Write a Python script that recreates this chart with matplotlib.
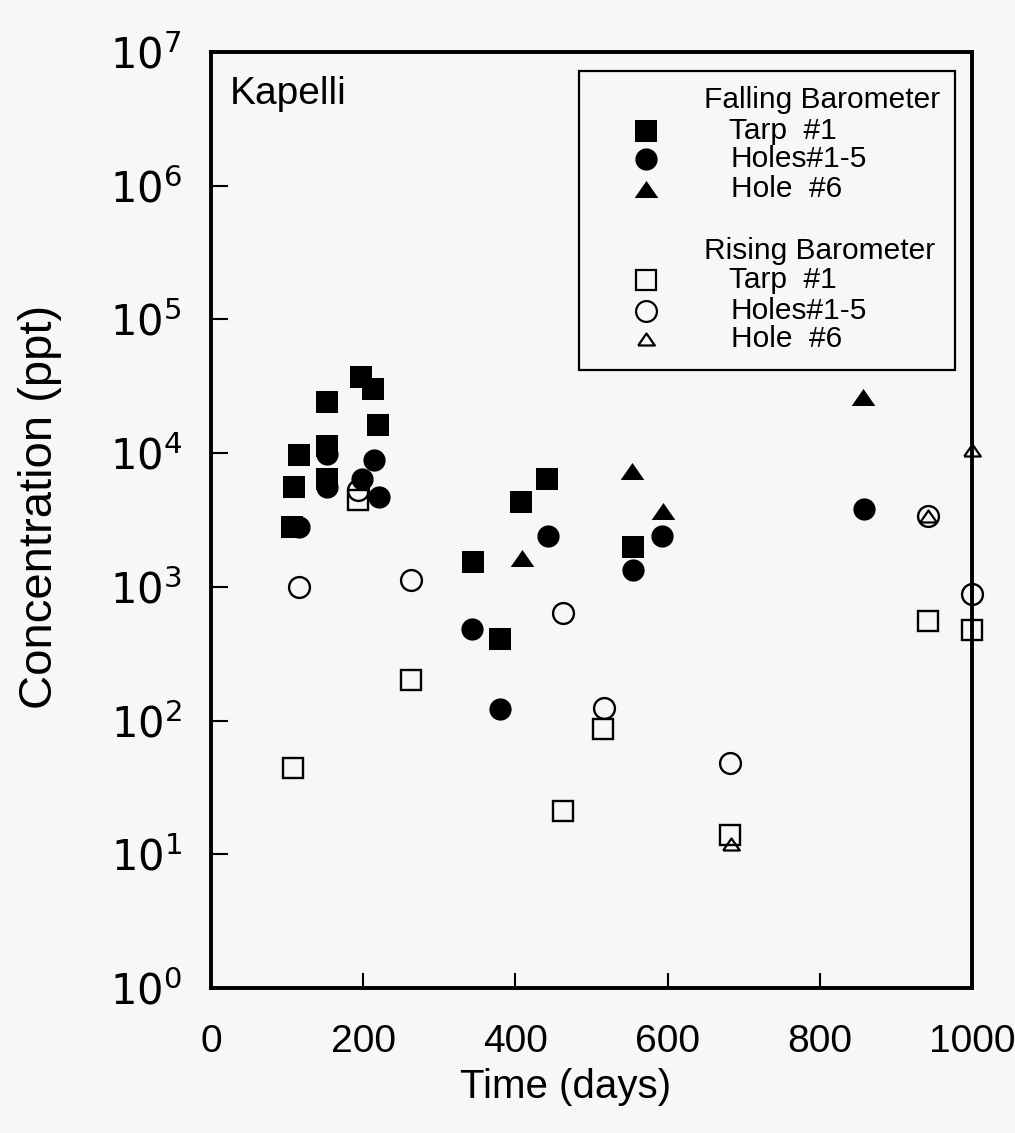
import matplotlib
matplotlib.use('Agg')
import matplotlib.pyplot as plt

plt.rcParams['mathtext.fontset'] = 'dejavusans'

# Falling barometer
fall_tarp_days = [107, 109, 115, 152, 153, 153, 197, 213, 220, 344, 380, 408, 442, 554]
fall_tarp_conc = [2800, 5600, 9700, 24000, 11300, 6400, 37000, 30000, 16300, 1530, 410, 4300, 6400, 2000]
fall_holes_days = [116, 152, 152, 198, 214, 221, 343, 380, 443, 554, 593, 858]
fall_holes_conc = [2800, 5600, 9800, 6400, 8900, 4700, 485, 123, 2400, 1330, 2400, 3800]
fall_h6_days = [409, 553, 594, 857]
fall_h6_conc = [1650, 7400, 3700, 26500]

# Rising barometer
rise_tarp_days = [108, 193, 263, 462, 515, 682, 942, 1000]
rise_tarp_conc = [44, 4500, 200, 21, 87, 14, 560, 475]
rise_holes_days = [116, 193, 263, 462, 516, 682, 942, 1000]
rise_holes_conc = [990, 5300, 1130, 635, 124, 48, 3400, 880]
rise_h6_days = [683, 942, 1000]
rise_h6_conc = [12, 3400, 10600]

xticks = [0, 200, 400, 600, 800, 1000]
yexps = [0, 1, 2, 3, 4, 5, 6, 7]

tri = [(-1, -0.72), (1, -0.72), (0, 0.72), (-1, -0.72)]
bg = '#f7f7f7'
sans = 'Liberation Sans'

fig = plt.figure(figsize=(10.15, 11.33), dpi=100, facecolor=bg)
ax = fig.add_axes([211 / 1015, (1133 - 988) / 1133, 761 / 1015, 936 / 1133], facecolor=bg)
ax.set_yscale('log')
ax.set_xlim(0, 1000)
ax.set_ylim(1, 1e7)

kw = dict(linestyle='none', clip_on=False, zorder=3)
ax.plot(fall_tarp_days, fall_tarp_conc, marker='s', ms=15.5, mfc='k', mec='k', mew=0, **kw)
ax.plot(fall_holes_days, fall_holes_conc, marker='o', ms=16, mfc='k', mec='k', mew=0, **kw)
ax.plot(fall_h6_days, fall_h6_conc, marker=tri, ms=17, mfc='k', mec='k', mew=0, **kw)
ax.plot(rise_tarp_days, rise_tarp_conc, marker='s', ms=14.5, mfc='none', mec='k', mew=1.7, **kw)
ax.plot(rise_holes_days, rise_holes_conc, marker='o', ms=15, mfc='none', mec='k', mew=1.7, **kw)
ax.plot(rise_h6_days, rise_h6_conc, marker=tri, ms=12, mfc='none', mec='k', mew=1.6, **kw)

for s in ax.spines.values():
    s.set_linewidth(2.8)

ax.set_xticks(xticks)
ax.set_xticklabels([str(t) for t in xticks])
ax.set_yticks([10.0 ** e for e in yexps])
ax.set_yticklabels([r'$\mathregular{10^{%d}}$' % e for e in yexps])
ax.minorticks_off()
ax.tick_params(axis='x', direction='in', length=11, width=1.5, pad=26,
               labelsize=28, labelfontfamily=sans)
ax.tick_params(axis='y', direction='in', length=12, width=1.5, pad=21, labelsize=30)

ax.set_xlabel('Time (days)', fontsize=29, family=sans)
ax.xaxis.set_label_coords(0.466, -0.086)
ax.set_ylabel('Concentration (ppt)', fontsize=34, family=sans)
ax.yaxis.set_label_coords(-0.196, 0.514)

ax.text(0.025, 0.955, 'Kapelli', transform=ax.transAxes, fontsize=28,
        family=sans, va='center', ha='left')

# legend drawn by hand to keep the original layout
W, H = 761.0, 936.0
bx0, bx1, by1, by0 = 0.483, 0.978, 0.980, 0.660
ax.add_patch(plt.Rectangle((bx0, by0), bx1 - bx0, by1 - by0, transform=ax.transAxes,
                           fill=False, ec='k', lw=1.6, zorder=4))

def row(dy):
    return by1 - dy / H

mx = bx0 + 67 / W
hx = bx0 + 125 / W
tx = bx0 + 150 / W
lkw = dict(transform=ax.transAxes, fontsize=21.5, family=sans, va='center', ha='left', zorder=5)
ax.text(hx, row(29), 'Falling Barometer', **lkw)
ax.text(tx, row(60), 'Tarp  #1', **lkw)
ax.text(tx + 2 / W, row(88), 'Holes#1-5', **lkw)
ax.text(tx + 2 / W, row(118), 'Hole  #6', **lkw)
ax.text(hx, row(180), 'Rising Barometer', **lkw)
ax.text(tx, row(209), 'Tarp  #1', **lkw)
ax.text(tx + 2 / W, row(240), 'Holes#1-5', **lkw)
ax.text(tx + 2 / W, row(268), 'Hole  #6', **lkw)

mk = dict(transform=ax.transAxes, linestyle='none', clip_on=False, zorder=5)
ax.plot([mx], [row(60)], marker='s', ms=16, mfc='k', mec='k', mew=0, **mk)
ax.plot([mx], [row(88)], marker='o', ms=16, mfc='k', mec='k', mew=0, **mk)
ax.plot([mx], [row(118)], marker=tri, ms=17, mfc='k', mec='k', mew=0, **mk)
ax.plot([mx], [row(209)], marker='s', ms=14.5, mfc='none', mec='k', mew=1.6, **mk)
ax.plot([mx], [row(240)], marker='o', ms=15, mfc='none', mec='k', mew=1.6, **mk)
ax.plot([mx], [row(268)], marker=tri, ms=12, mfc='none', mec='k', mew=1.6, **mk)

fig.savefig('out.png', dpi=100, facecolor=bg)
